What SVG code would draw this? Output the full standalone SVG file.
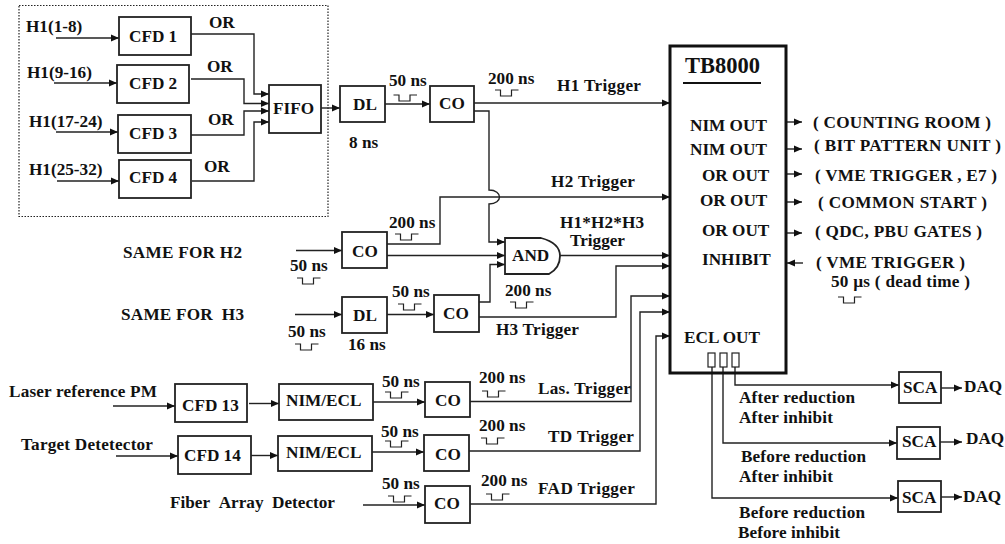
<svg xmlns="http://www.w3.org/2000/svg" width="1005" height="544" viewBox="0 0 1005 544">
<style>
text{font-family:"Liberation Serif","Times New Roman",serif;font-weight:bold;font-size:17.200px;fill:#111}
.b rect,rect.b{fill:#fff;stroke:#222;stroke-width:1.8}
#connectors path{fill:none;stroke:#222;stroke-width:1.4}
.a{marker-end:url(#arr)}
.p{fill:none;stroke:#222;stroke-width:1.2}
</style>
<defs>
<marker id="arr" markerUnits="userSpaceOnUse" markerWidth="9" markerHeight="8" refX="8" refY="4" orient="auto"><path d="M0 0.5L8 4L0 7.5z" fill="#111"/></marker>
<path id="pulse" class="p" d="M0 0h5.5v6h11v-6h7"/>
</defs>
<rect width="1005" height="544" fill="#fff"/>
<rect id="frame" x="19" y="5.500" width="309" height="211" fill="none" stroke="#222" stroke-width="1.2" stroke-dasharray="1.500 1.500"/>
<g id="connectors">
<path class="a" d="M56 38H119"/><path class="a" d="M54 83H117"/><path class="a" d="M56 132H118"/><path class="a" d="M57 181H119"/>
<path class="a" d="M191 34H254V94H269"/><path class="a" d="M191 79H244V103.500H269"/><path class="a" d="M191 135H244V111H269"/><path class="a" d="M192 181H254V122H269"/>
<path class="a" d="M321 108H340"/><path class="a" d="M385 104H430"/><path class="a" d="M474 103H670"/>
<path class="a" d="M472 111H489V190C503 190 503 204 489 204V242H505"/>
<path class="a" d="M387 244H440V197H670"/>
<path class="a" d="M387 255.500H505"/><path class="a" d="M560 255.500H670"/>
<path class="a" d="M296 250.500H342"/><path class="a" d="M295 314.500H342"/><path class="a" d="M387 314.500H434"/>
<path class="a" d="M479 302H490V264.500H505"/><path class="a" d="M479 317H616V266H670"/>
<path class="a" d="M470 401.500H631V296H670"/><path class="a" d="M469 451H640V312H670"/><path class="a" d="M470 504H656V336H670"/>
<path class="a" d="M373 402H425"/><path class="a" d="M372 452H424"/><path class="a" d="M363 505H425"/>
<path class="a" d="M113 406H175"/><path class="a" d="M249 403.500H279"/><path class="a" d="M116 456H178"/><path class="a" d="M250 455.500H278"/>
<path class="a" d="M787 122H802"/><path class="a" d="M787 149H802"/><path class="a" d="M787 174H802"/><path class="a" d="M787 202H802"/><path class="a" d="M787 233H802"/><path class="a" d="M803 263H787"/>
<path class="a" d="M735 367V385H899"/><path class="a" d="M723 367V443H897"/><path class="a" d="M712 367V498H898"/>
<path class="a" d="M941 388H962"/><path class="a" d="M940 442H962"/><path class="a" d="M941 497H962"/>
</g>
<g id="cfd1" class="b"><rect x="119" y="17" width="72" height="38"/><text x="129" y="42">CFD 1</text></g>
<g id="cfd2" class="b"><rect x="117" y="65" width="72" height="38"/><text x="129" y="89">CFD 2</text></g>
<g id="cfd3" class="b"><rect x="118" y="115" width="73" height="38"/><text x="129" y="139">CFD 3</text></g>
<g id="cfd4" class="b"><rect x="119" y="160" width="72" height="38"/><text x="129" y="183">CFD 4</text></g>
<g id="fifo" class="b"><rect x="269" y="85" width="52" height="48"/><text x="273" y="114">FIFO</text></g>
<g id="dl1" class="b"><rect x="340" y="86" width="45" height="36"/><text x="353" y="110">DL</text></g>
<g id="co1" class="b"><rect x="430" y="86" width="44" height="36"/><text x="439" y="109">CO</text></g>
<g id="co2" class="b"><rect x="342" y="232" width="45" height="36"/><text x="352" y="257">CO</text></g>
<g id="and" class="b"><path d="M505 238H541Q560 243 560 256Q560 268 549 274H505Z" fill="#fff" stroke="#222" stroke-width="1.800"/><text x="512" y="261">AND</text></g>
<g id="dl2" class="b"><rect x="342" y="297" width="45" height="36"/><text x="353" y="321">DL</text></g>
<g id="co3" class="b"><rect x="434" y="295" width="45" height="37"/><text x="443" y="319">CO</text></g>
<g id="cfd13" class="b"><rect x="175" y="384" width="72" height="38"/><text x="182" y="411">CFD 13</text></g>
<g id="cfd14" class="b"><rect x="178" y="436" width="73" height="38"/><text x="184" y="461">CFD 14</text></g>
<g id="nim1" class="b"><rect x="279" y="384" width="94" height="36"/><text x="286" y="406">NIM/ECL</text></g>
<g id="nim2" class="b"><rect x="278" y="436" width="94" height="35"/><text x="286" y="458">NIM/ECL</text></g>
<g id="co-las" class="b"><rect x="425" y="382" width="45" height="35"/><text x="435" y="406">CO</text></g>
<g id="co-td" class="b"><rect x="424" y="435" width="45" height="36"/><text x="435" y="460">CO</text></g>
<g id="co-fad" class="b"><rect x="425" y="486" width="45" height="37"/><text x="434" y="509">CO</text></g>
<g id="tb8000"><rect x="670" y="46" width="116" height="327" fill="none" stroke="#111" stroke-width="3"/><text x="685" y="73" style="font-size:22.500px">TB8000</text><path d="M683 83H761" stroke="#111" stroke-width="2"/>
<text x="690" y="131">NIM OUT</text><text x="690" y="155">NIM OUT</text><text x="702" y="181">OR OUT</text><text x="700" y="206">OR OUT</text><text x="702" y="236">OR OUT</text><text x="702" y="265">INHIBIT</text><text x="684" y="343">ECL OUT</text>
<g fill="#fff" stroke="#222" stroke-width="1.2"><rect x="708" y="353" width="7" height="14"/><rect x="720" y="353" width="7" height="14"/><rect x="732" y="353" width="7" height="14"/></g></g>
<g id="sca1" class="b"><rect x="899" y="372" width="42" height="31"/><text x="903" y="393">SCA</text></g>
<g id="sca2" class="b"><rect x="897" y="427" width="43" height="32"/><text x="902" y="447">SCA</text></g>
<g id="sca3" class="b"><rect x="898" y="481" width="43" height="31"/><text x="902" y="503">SCA</text></g>
<g id="labels">
<text x="26" y="32">H1(1-8)</text><text x="27" y="78">H1(9-16)</text><text x="29" y="127">H1(17-24)</text><text x="29" y="175">H1(25-32)</text>
<text x="209" y="28">OR</text><text x="207" y="72">OR</text><text x="208" y="125">OR</text><text x="204" y="172">OR</text>
<text x="389" y="86">50 ns</text><text x="488" y="84">200 ns</text><text x="557" y="91" textLength="84">H1 Trigger</text><text x="349" y="148">8 ns</text><text x="551" y="187" textLength="84">H2 Trigger</text>
<text x="389" y="228">200 ns</text><text x="560" y="228" textLength="84">H1*H2*H3</text><text x="570" y="246" textLength="55">Trigger</text><text x="505" y="296">200 ns</text><text x="392" y="297">50 ns</text><text x="348" y="350">16 ns</text><text x="496" y="335" textLength="83">H3 Trigger</text>
<text x="382" y="387">50 ns</text><text x="479" y="383">200 ns</text><text x="538" y="394" textLength="93">Las. Trigger</text>
<text x="381" y="437">50 ns</text><text x="479" y="431">200 ns</text><text x="548" y="442" textLength="86">TD Trigger</text>
<text x="382" y="489">50 ns</text><text x="481" y="486">200 ns</text><text x="538" y="494" textLength="97">FAD Trigger</text>
<text x="123" y="258" textLength="119">SAME FOR H2</text><text x="121" y="320" textLength="123">SAME FOR&#160;&#160;H3</text><text x="290" y="271">50 ns</text><text x="288" y="337">50 ns</text>
<text x="9" y="397" textLength="148">Laser reference PM</text><text x="21" y="450" textLength="132">Target Detetector</text><text x="170" y="508" textLength="165">Fiber&#160;&#160;Array&#160;&#160;Detector</text>
<text x="813" y="128" textLength="178">( COUNTING ROOM )</text><text x="814" y="151" textLength="187">( BIT PATTERN UNIT )</text><text x="815" y="181" textLength="182">( VME TRIGGER , E7 )</text><text x="818" y="208" textLength="169">( COMMON START )</text><text x="815" y="237" textLength="167">( QDC, PBU GATES )</text><text x="816" y="268" textLength="149">( VME TRIGGER )</text><text x="831" y="287" textLength="139">50 µs ( dead time )</text>
<text x="739" y="403" textLength="116">After reduction</text><text x="739" y="423" textLength="94">After inhibit</text><text x="741" y="462" textLength="125">Before reduction</text><text x="739" y="482" textLength="94">After inhibit</text><text x="739" y="518" textLength="126">Before reduction</text><text x="738" y="538" textLength="102">Before inhibit</text>
<text x="964" y="392">DAQ</text><text x="966" y="444">DAQ</text><text x="963" y="502">DAQ</text>
</g>
<g id="pulses">
<use href="#pulse" x="393.500" y="95"/><use href="#pulse" x="495" y="90"/><use href="#pulse" x="395" y="234"/><use href="#pulse" x="510" y="302"/><use href="#pulse" x="398" y="304"/><use href="#pulse" x="297" y="278"/><use href="#pulse" x="295" y="344"/><use href="#pulse" x="385" y="392"/><use href="#pulse" x="482" y="391"/><use href="#pulse" x="385" y="441"/><use href="#pulse" x="481" y="438"/><use href="#pulse" x="388" y="496"/><use href="#pulse" x="486" y="494"/><use href="#pulse" x="838" y="297"/>
</g>
</svg>
